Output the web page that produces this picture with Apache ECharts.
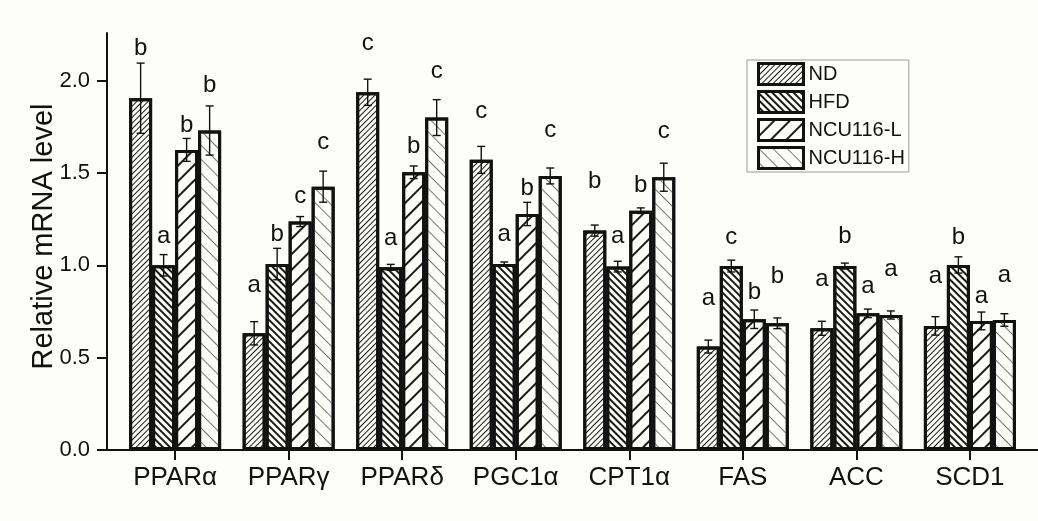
<!DOCTYPE html>
<html>
<head>
<meta charset="utf-8">
<script src="https://cdn.jsdelivr.net/npm/echarts@6/dist/echarts.min.js"></script>
<style>
html,body{margin:0;padding:0;background:#fdfdf9;}
#chart{width:1038px;height:521px;}
</style>
</head>
<body>
<div id="chart"></div>
<script>
// ---- data ----
const categories = ['PPARα','PPARγ','PPARδ','PGC1α','CPT1α','FAS','ACC','SCD1'];
const groupNames = ['ND','HFD','NCU116-L','NCU116-H'];

const ndMean   = [1.905, 0.632, 1.937, 1.571, 1.188, 0.560, 0.659, 0.672];
const ndErr    = [0.190, 0.063, 0.071, 0.073, 0.030, 0.035, 0.038, 0.050];
const ndLetter = ['b','a','c','c','b','a','a','a'];
const ndLetterY= [2.175, 0.894, 2.200, 1.832, 1.453, 0.821, 0.924, 0.939];

const hfdMean   = [1.000, 1.007, 0.989, 1.007, 0.993, 0.996, 0.996, 1.002];
const hfdErr    = [0.058, 0.085, 0.016, 0.011, 0.029, 0.032, 0.016, 0.044];
const hfdLetter = ['a','b','a','a','a','c','b','b'];
const hfdLetterY= [1.155, 1.170, 1.146, 1.170, 1.155, 1.152, 1.158, 1.153];

const lowMean   = [1.625, 1.237, 1.504, 1.278, 1.296, 0.708, 0.740, 0.699];
const lowErr    = [0.062, 0.027, 0.034, 0.063, 0.015, 0.050, 0.023, 0.048];
const lowLetter = ['b','c','b','b','b','b','a','a'];
const lowLetterY= [1.760, 1.375, 1.646, 1.417, 1.435, 0.852, 0.885, 0.834];

const highMean   = [1.730, 1.426, 1.800, 1.484, 1.477, 0.686, 0.731, 0.704];
const highErr    = [0.133, 0.084, 0.097, 0.043, 0.076, 0.029, 0.022, 0.034];
const highLetter = ['b','c','c','c','c','b','a','a'];
const highLetterY= [1.977, 1.664, 2.049, 1.729, 1.724, 0.939, 0.979, 0.948];

const yTicks = [0, 0.5, 1.0, 1.5, 2.0];

// ---- build ----
const means = [ndMean, hfdMean, lowMean, highMean];
const errs = [ndErr, hfdErr, lowErr, highErr];
const letters = [ndLetter, hfdLetter, lowLetter, highLetter];
const letterYs = [ndLetterY, hfdLetterY, lowLetterY, highLetterY];
const xPos = categories.map((c, i) => i + 1);

const BAR_W = 23;
const FONT = "'Liberation Sans', Arial, sans-serif";
const BG = '#fdfdf9';

const decals = [
  {symbol:'rect', symbolSize:1, dashArrayX:[1,0], dashArrayY:[1, 2.4], rotation:-Math.PI/4, color:'#1a1a1a', backgroundColor:null},
  {symbol:'rect', symbolSize:1, dashArrayX:[1,0], dashArrayY:[1.3, 2.9], rotation:Math.PI/4, color:'#1a1a1a', backgroundColor:null},
  {symbol:'rect', symbolSize:1, dashArrayX:[1,0], dashArrayY:[1.3, 8.5], rotation:-Math.PI/4, color:'#1a1a1a', backgroundColor:null},
  {symbol:'rect', symbolSize:1, dashArrayX:[1,0], dashArrayY:[1, 8.5], rotation:Math.PI/4, color:'#777', backgroundColor:null}
];

const series = [];
groupNames.forEach((name, k) => {
  series.push({
    name: name,
    type: 'bar',
    barWidth: BAR_W,
    barGap: '0%',
    data: xPos.map((x, i) => [x, means[k][i]]),
    itemStyle: {color: '#fdfdf9', borderColor: '#111', borderWidth: 3, decal: decals[k]},
    emphasis: {disabled: true},
    z: 2
  });
});
groupNames.forEach((name, k) => {
  series.push({
    name: name + '-err',
    type: 'custom',
    z: 5,
    clip: false,
    encode: {x: 0, y: 1},
    data: xPos.map((x, i) => [x, means[k][i], errs[k][i], letterYs[k][i]]),
    renderItem: function (params, api) {
      const x = api.value(0), m = api.value(1), e = api.value(2), ly = api.value(3);
      const off = (k - 1.5) * BAR_W;
      const top = api.coord([x, m + e]);
      const bot = api.coord([x, m - e]);
      const lab = api.coord([x, ly]);
      const cx = top[0] + off;
      const st = {stroke: '#111', lineWidth: 1.4};
      return {
        type: 'group',
        children: [
          {type: 'line', shape: {x1: cx, y1: top[1], x2: cx, y2: bot[1]}, style: st},
          {type: 'line', shape: {x1: cx - 4, y1: top[1], x2: cx + 4, y2: top[1]}, style: st},
          {type: 'line', shape: {x1: cx - 4, y1: bot[1], x2: cx + 4, y2: bot[1]}, style: st},
          {type: 'text', x: cx, y: lab[1], style: {text: letters[k][params.dataIndex], fill: '#111', font: "24px 'Liberation Sans', Arial, sans-serif", fontSize: 24, align: 'center', verticalAlign: 'middle'}}
        ]
      };
    }
  });
});

const chart = echarts.init(document.getElementById('chart'), null, {renderer: 'canvas'});
chart.setOption({
  backgroundColor: BG,
  animation: false,
  legend: {
    data: groupNames,
    orient: 'vertical',
    left: 747,
    top: 60,
    itemWidth: 45,
    itemHeight: 21,
    itemGap: 4,
    padding: [2, 4, 2, 10],
    borderColor: '#999',
    borderWidth: 1,
    icon: 'rect',
    selectedMode: false,
    itemStyle: {borderColor: '#111', borderWidth: 3},
    textStyle: {fontSize: 20, fontFamily: FONT, color: '#111'}
  },
  grid: {left: 107, top: 33, width: 938, height: 417, containLabel: false},
  xAxis: {
    type: 'value',
    min: 0.4,
    max: 8.6,
    axisLine: {show: true, lineStyle: {color: '#111', width: 2}},
    axisTick: {show: true, length: 10, lineStyle: {color: '#111', width: 2}, customValues: xPos},
    axisLabel: {customValues: xPos, formatter: v => categories[Math.round(v) - 1], fontSize: 26, fontFamily: FONT, color: '#111', margin: 15},
    splitLine: {show: false}
  },
  yAxis: {
    type: 'value',
    min: 0,
    max: 2.258,
    name: 'Relative mRNA level',
    nameLocation: 'middle',
    nameRotate: 90,
    nameGap: 49,
    nameMoveOverlap: false,
    nameTextStyle: {fontSize: 29, fontFamily: FONT, color: '#111', padding: [0, 0, 0, 10]},
    axisLine: {show: true, lineStyle: {color: '#111', width: 2}},
    axisTick: {show: true, length: 10, lineStyle: {color: '#111', width: 2}, customValues: yTicks},
    axisLabel: {customValues: yTicks, formatter: v => v.toFixed(1), fontSize: 22, fontFamily: FONT, color: '#111', margin: 17},
    splitLine: {show: false}
  },
  series: series
});
</script>
</body>
</html>
